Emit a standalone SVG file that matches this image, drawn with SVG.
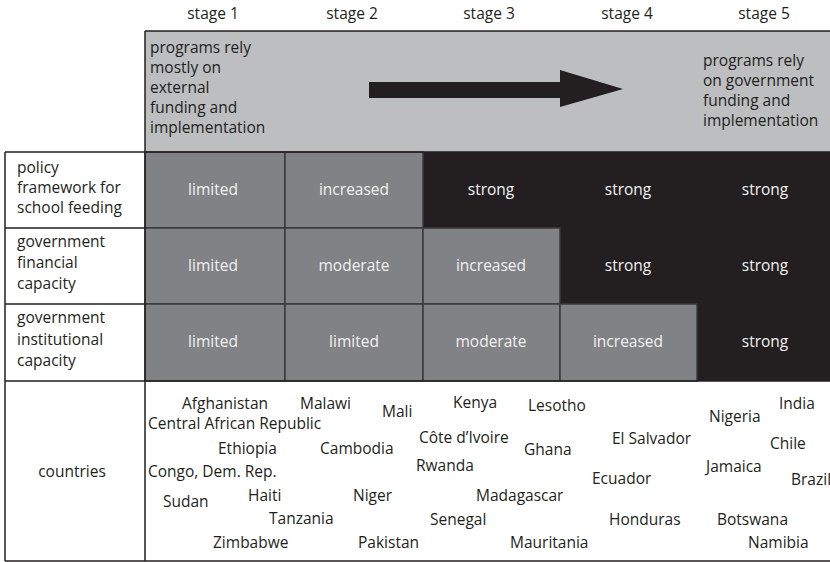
<svg xmlns="http://www.w3.org/2000/svg" width="830" height="562" viewBox="0 0 830 562">
<style>
text{font-family:"Open Sans","Noto Sans","DejaVu Sans",sans-serif;font-size:15.5px;fill:#231f20}
.c{text-anchor:middle}
.w{fill:#f1f1f2;text-anchor:middle}
.hdr{fill:#bcbec0}
.g{fill:#808285;stroke:#3a3a3c;stroke-width:1.5}
.b{fill:#231f20}
.ln{stroke:#231f20;stroke-width:1.5;fill:none}
</style>
<rect width="830" height="562" fill="#ffffff"/>
<g id="stage-labels">
<text class="c" x="213" y="19">stage 1</text>
<text class="c" x="352" y="19">stage 2</text>
<text class="c" x="489" y="19">stage 3</text>
<text class="c" x="627" y="19">stage 4</text>
<text class="c" x="764" y="19">stage 5</text>
</g>
<g id="header">
<rect class="hdr" x="145" y="31" width="685" height="121"/>
<text x="150" y="53">programs rely</text>
<text x="150" y="73">mostly on</text>
<text x="150" y="93">external</text>
<text x="150" y="113">funding and</text>
<text x="150" y="133">implementation</text>
<text x="703" y="65.5">programs rely</text>
<text x="703" y="85.5">on government</text>
<text x="703" y="105.5">funding and</text>
<text x="703" y="125.5">implementation</text>
</g>
<g id="connectors">
<path d="M369,82 H560 V70 L623,89 L560,107 V98 H369 Z" fill="#231f20"/>
</g>
<g id="black-area">
<path class="b" d="M423,152 H830 V381 H697 V304 H560 V228 H423 Z"/>
</g>
<g id="row-policy">
<text x="17" y="173">policy</text>
<text x="17" y="193">framework for</text>
<text x="17" y="213">school feeding</text>
<rect class="g" x="145" y="152" width="140" height="76"/>
<text class="w" x="213" y="195">limited</text>
<rect class="g" x="285" y="152" width="138" height="76"/>
<text class="w" x="354" y="195">increased</text>
<text class="w" x="491" y="195">strong</text>
<text class="w" x="628" y="195">strong</text>
<text class="w" x="765" y="195">strong</text>
</g>
<g id="row-financial">
<text x="17" y="247">government</text>
<text x="17" y="268">financial</text>
<text x="17" y="289">capacity</text>
<rect class="g" x="145" y="228" width="140" height="76"/>
<text class="w" x="213" y="271">limited</text>
<rect class="g" x="285" y="228" width="138" height="76"/>
<text class="w" x="354" y="271">moderate</text>
<rect class="g" x="423" y="228" width="137" height="76"/>
<text class="w" x="491" y="271">increased</text>
<text class="w" x="628" y="271">strong</text>
<text class="w" x="765" y="271">strong</text>
</g>
<g id="row-institutional">
<text x="17" y="323">government</text>
<text x="17" y="345">institutional</text>
<text x="17" y="366">capacity</text>
<rect class="g" x="145" y="304" width="140" height="77"/>
<text class="w" x="213" y="347">limited</text>
<rect class="g" x="285" y="304" width="138" height="77"/>
<text class="w" x="354" y="347">limited</text>
<rect class="g" x="423" y="304" width="137" height="77"/>
<text class="w" x="491" y="347">moderate</text>
<rect class="g" x="560" y="304" width="137" height="77"/>
<text class="w" x="628" y="347">increased</text>
<text class="w" x="765" y="347">strong</text>
</g>
<g id="grid-lines">
<path class="ln" d="M145,31 H830 M145,31 V561 M5,152 H830 M5,228 H145 M5,304 H145 M5,381 H830 M5,152 V561 M5,561 H830 M145,152 H423"/>
</g>
<g id="row-countries">
<text class="c" x="72" y="477">countries</text>
<text x="182" y="409">Afghanistan</text>
<text x="300" y="409">Malawi</text>
<text x="382" y="417">Mali</text>
<text x="148" y="429">Central African Republic</text>
<text x="218" y="454">Ethiopia</text>
<text x="320" y="454">Cambodia</text>
<text x="148" y="477">Congo, Dem. Rep.</text>
<text x="163" y="507">Sudan</text>
<text x="248" y="501">Haiti</text>
<text x="353" y="501">Niger</text>
<text x="269" y="524">Tanzania</text>
<text x="213" y="548">Zimbabwe</text>
<text x="358" y="548">Pakistan</text>
<text x="453" y="408">Kenya</text>
<text x="528" y="411">Lesotho</text>
<text x="419" y="443">Côte d’Ivoire</text>
<text x="524" y="455">Ghana</text>
<text x="612" y="444">El Salvador</text>
<text x="416" y="471">Rwanda</text>
<text x="592" y="484">Ecuador</text>
<text x="476" y="501">Madagascar</text>
<text x="430" y="525">Senegal</text>
<text x="609" y="525">Honduras</text>
<text x="510" y="548">Mauritania</text>
<text x="709" y="422">Nigeria</text>
<text x="779" y="409">India</text>
<text x="770" y="449">Chile</text>
<text x="706" y="472">Jamaica</text>
<text x="791" y="485">Brazil</text>
<text x="717" y="525">Botswana</text>
<text x="748" y="548">Namibia</text>
</g>
</svg>
